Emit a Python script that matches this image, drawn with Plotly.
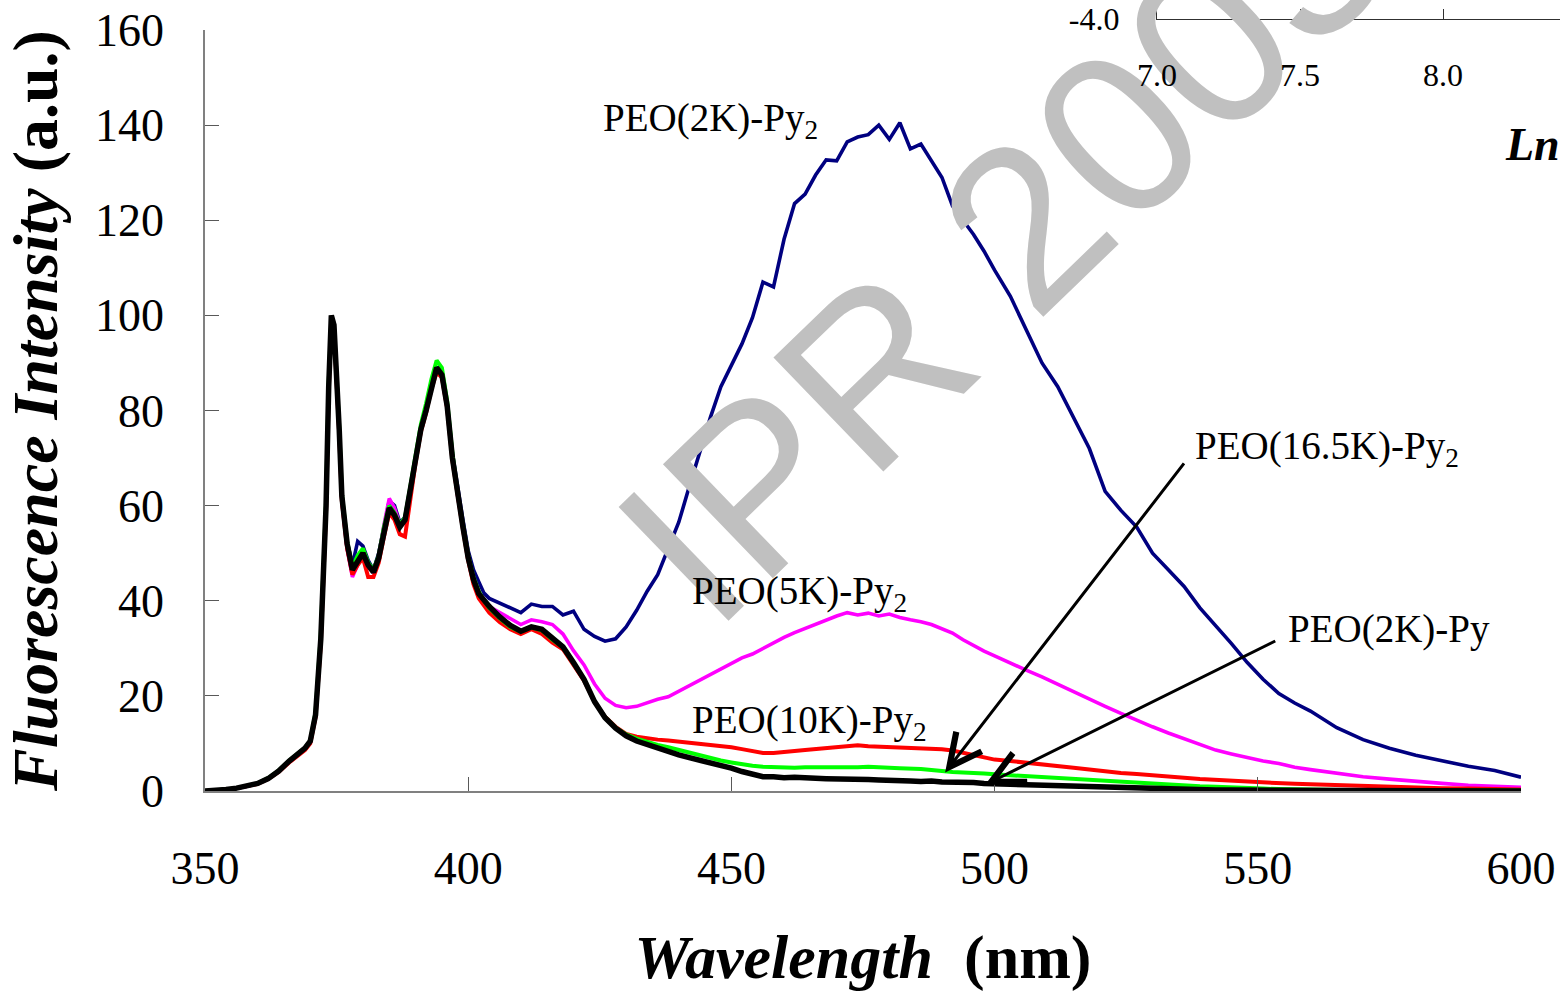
import plotly.graph_objects as go

# ---------------- data ----------------
wavelength = [350, 352, 354, 356, 358, 360, 362, 364, 366, 368,
              369, 370, 371, 372, 373, 373.5, 374, 374.5, 375, 375.5, 376,
              377, 378, 379, 380, 381, 382, 383, 384, 385, 386, 387, 388, 389, 390,
              391, 392, 393, 394, 395, 396, 397, 398, 399, 400, 401, 402, 403, 404,
              406, 408, 410, 412, 414, 416, 418, 420, 422, 424, 426, 428, 430, 432,
              434, 436, 438, 440, 442, 444, 446, 448, 450, 452, 454, 456, 458, 460,
              462, 464, 466, 468, 470, 472, 474, 476, 478, 480, 482, 484, 486, 488,
              490, 492, 494, 496, 498, 500,
              503, 506, 509, 512, 515, 518, 521, 524, 527, 530, 533, 536, 539, 542,
              545, 548, 551, 554, 557, 560,
              565, 570, 575, 580, 585, 590, 595, 600]

peo2k_py2 = [0, 0.1, 0.3, 0.6, 1.0, 1.6, 2.6, 4.2, 6.3, 8.2,
             9.0, 10.5, 16, 32, 60, 85, 99.5, 97.5, 88, 76, 62.5,
             52.5, 47.5, 52.5, 51.5, 48.5, 46.5, 50, 56, 61, 60, 56.5, 57.5, 64, 70.5,
             76.5, 80.5, 85, 89, 88, 81.5, 71, 63.5, 57, 50.5, 46.5, 44, 41.6, 40.5,
             39.5, 38.5, 37.5, 39.3, 38.8, 38.8, 37.0, 37.8, 34.0, 32.5, 31.5, 32.0, 34.5, 38.0,
             42.0, 45.5, 51.0, 56.5, 64.0, 71.5, 78.5, 85.0, 89.5, 94.0, 99.5, 107.0, 106.0, 116.0,
             123.5, 125.5, 129.5, 132.7, 132.5, 136.5, 137.5, 138.0, 140.0, 137.0, 140.5, 135.0, 136.0, 132.5,
             129.0, 123.0, 120.0, 117.0, 113.5, 109.5,
             104.0, 97.0, 90.0, 85.0, 78.5, 72.0, 63.0, 59.0, 55.5, 50.0, 46.5, 43.0, 38.5, 34.8,
             31.0, 27.0, 23.5, 20.5, 18.5, 16.8,
             13.3, 10.8, 9.0, 7.5, 6.4, 5.2, 4.3, 2.9]

peo5k_py2 = [0, 0.1, 0.3, 0.6, 1.0, 1.6, 2.6, 4.1, 6.2, 8.0,
             8.8, 10.2, 15.5, 31.5, 59.5, 85, 99, 97, 87, 75, 61,
             51, 45, 47.5, 49.5, 47, 46, 49.5, 56, 61.5, 59.5, 56, 56.5, 63, 70,
             76, 80, 85, 88.5, 87, 80.5, 70, 62, 55.5, 49.5, 45, 42, 40, 38.8,
             37.5, 36.2, 35.0, 36.0, 35.6, 35.0, 33.0, 29.5, 26.5, 22.5, 19.5, 18.0, 17.5, 17.8,
             18.5, 19.3, 19.8, 21.0, 22.2, 23.3, 24.5, 25.6, 27.0, 28.0, 28.8, 30.0, 31.2, 32.3,
             33.3, 34.2, 35.0, 36.0, 36.8, 37.5, 37.0, 37.4, 36.8, 37.2, 36.5, 36.0, 35.6, 35.0,
             34.2, 33.2, 31.8, 30.5, 29.4, 28.4,
             26.8, 25.4, 24.0, 22.4, 20.8, 19.4, 17.8, 16.3, 14.8, 13.5, 12.2, 11.0, 9.8, 8.6,
             7.8, 7.0, 6.3, 5.8, 5.0, 4.5,
             3.7, 3.0, 2.5, 2.0, 1.6, 1.2, 1.0, 0.8]

peo10k_py2 = [0, 0.1, 0.3, 0.6, 1.0, 1.5, 2.5, 4.0, 6.0, 7.8,
              8.6, 10.0, 15.5, 31, 59, 84, 99, 97, 87, 75, 61,
              51, 45.5, 47.5, 49, 45, 45, 48, 53.5, 58.5, 57, 54, 53.5, 61.5, 69,
              75.5, 79.5, 84.5, 88, 87, 80.5, 69.5, 61.5, 55, 48.5, 43.5, 40.5, 39, 37.5,
              35.5, 34.0, 33.0, 34.0, 33.0, 31.2, 29.8, 26.5, 23.2, 18.8, 15.6, 13.5, 12.0, 11.4,
              11.0, 10.8, 10.6, 10.4, 10.2, 10.0, 9.7, 9.4, 9.2, 8.8, 8.3, 8.0, 8.0, 8.1,
              8.4, 8.6, 8.8, 9.0, 9.2, 9.4, 9.6, 9.4, 9.3, 9.3, 9.2, 9.2, 9.1, 9.0,
              8.8, 8.5, 8.0, 7.5, 7.0, 6.6,
              6.3, 6.0, 5.6, 5.2, 4.9, 4.5, 4.1, 3.8, 3.6, 3.4, 3.1, 2.8, 2.5, 2.3,
              2.1, 1.9, 1.8, 1.7, 1.5, 1.4,
              1.2, 1.1, 0.9, 0.8, 0.6, 0.5, 0.4, 0.3]

peo16k_py2 = [0, 0.1, 0.3, 0.6, 1.0, 1.6, 2.7, 4.3, 6.4, 8.3,
              9.1, 10.6, 16.5, 33, 61, 86, 99.5, 97.5, 88, 76.5, 62.5,
              52.5, 47, 49.5, 51, 48, 46.5, 49.5, 55.5, 60, 58.5, 56, 57.5, 64, 71,
              77, 81.5, 86.5, 90.5, 89, 82, 71, 62.5, 56, 49.5, 45, 42, 40, 38.5,
              36.3, 34.5, 33.5, 34.4, 33.8, 31.8, 30.2, 27.0, 23.5, 18.8, 15.5, 13.3, 11.9, 11.0,
              10.3, 9.7, 9.2, 8.6, 8.1, 7.5, 6.9, 6.4, 6.0, 5.6, 5.3, 5.1, 5.0, 5.0,
              4.9, 5.0, 4.9, 5.0, 5.0, 4.9, 5.0, 5.1, 4.9, 4.9, 4.8, 4.8, 4.6, 4.4,
              4.1, 4.0, 3.9, 3.9, 3.7, 3.5,
              3.3, 3.0, 2.8, 2.6, 2.4, 2.2, 2.0, 1.9, 1.7, 1.5, 1.4, 1.2, 1.0, 0.9,
              0.7, 0.6, 0.5, 0.4, 0.3, 0.3,
              0.2, 0.2, 0.2, 0.1, 0.1, 0.1, 0.1, 0.1]

peo2k_py = [0, 0.1, 0.3, 0.6, 1.0, 1.6, 2.6, 4.2, 6.3, 8.2,
            9.0, 10.5, 16, 32, 60, 85, 100, 98, 88, 76, 62,
            52, 46.5, 48.5, 50, 47.5, 46, 49, 55, 59.5, 58, 55.5, 57, 63, 70,
            76, 80, 85, 89, 87.5, 81, 70, 62, 55.5, 49, 44.5, 41.5, 40, 38.8,
            36.6, 34.8, 33.6, 34.5, 34.0, 32.0, 30.3, 27.0, 23.5, 18.8, 15.4, 13.2, 11.6, 10.5,
            9.7, 8.9, 8.2, 7.6, 7.0, 6.5, 5.9, 5.3, 4.8, 4.1, 3.5, 3.0, 3.0, 2.8,
            2.9, 2.7, 2.7, 2.6, 2.6, 2.5, 2.6, 2.4, 2.3, 2.3, 2.3, 2.1, 2.0, 2.1,
            1.9, 1.9, 1.8, 1.8, 1.6, 1.6,
            1.4, 1.3, 1.2, 1.0, 0.9, 0.8, 0.7, 0.6, 0.5, 0.4, 0.4, 0.3, 0.3, 0.2,
            0.2, 0.2, 0.2, 0.1, 0.1, 0.1,
            0.1, 0.1, 0.1, 0.1, 0.0, 0.0, 0.0, 0.0]

series_names = ["PEO(2K)-Py2", "PEO(5K)-Py2", "PEO(10K)-Py2", "PEO(16.5K)-Py2", "PEO(2K)-Py"]
series_values = [peo2k_py2, peo5k_py2, peo10k_py2, peo16k_py2, peo2k_py]
series_colors = ["#000080", "#FF00FF", "#FF0000", "#00FF00", "#000000"]
series_widths = [3.6, 3.6, 4, 4, 5.5]

x_ticks = [350, 400, 450, 500, 550, 600]
y_ticks = [0, 20, 40, 60, 80, 100, 120, 140, 160]

# curve labels: (text, x, y)
label_texts = ["PEO(2K)-Py<sub>2</sub>", "PEO(5K)-Py<sub>2</sub>", "PEO(10K)-Py<sub>2</sub>",
               "PEO(16.5K)-Py<sub>2</sub>", "PEO(2K)-Py"]
label_x = [425.2, 442.1, 442.1, 537.7, 555.4]
label_y = [141.0, 41.5, 14.5, 72.0, 34.0]

# arrows: head (x, y) and tail (ax, ay)
arrow_head_x = [490.6, 498.2]
arrow_head_y = [3.9, 1.3]
arrow_tail_x = [536.2, 553.6]
arrow_tail_y = [69.2, 31.7]

# inset (cropped) axis ticks
inset_x_ticks = [7.0, 7.5, 8.0]
inset_x_text = ["7.0", "7.5", "8.0"]
inset_y_ticks = [-4.0]

SERIF = "Times New Roman, Liberation Serif, serif"

fig = go.Figure()
for name, vals, col, w in zip(series_names, series_values, series_colors, series_widths):
    fig.add_trace(go.Scatter(x=wavelength, y=vals, mode="lines", name=name,
                             line=dict(color=col, width=w), showlegend=False,
                             xaxis="x", yaxis="y"))

# empty trace for the cropped inset subplot
fig.add_trace(go.Scatter(x=[], y=[], xaxis="x2", yaxis="y2", showlegend=False))

W, H = 1560, 995
ml, mr, mt, mb = 205, 0, 0, 204
pw, ph = W - ml - mr, H - mt - mb

annotations = []
# watermark (first, so labels are drawn over it)
annotations.append(dict(text="IPR 2003", x=(1003 - ml) / pw, y=(ph - 246) / ph,
                        xref="paper", yref="paper", xanchor="center", yanchor="middle",
                        textangle=-44, showarrow=False,
                        font=dict(family="Arial, Liberation Sans, sans-serif", size=230,
                                  color="#C0C0C0")))
for t, x, y in zip(label_texts, label_x, label_y):
    annotations.append(dict(text=t, x=x, y=y, xref="x", yref="y", xanchor="left",
                            yanchor="middle", showarrow=False,
                            font=dict(family=SERIF, size=39, color="black")))
for hx, hy, tx, ty in zip(arrow_head_x, arrow_head_y, arrow_tail_x, arrow_tail_y):
    annotations.append(dict(text="", x=hx, y=hy, ax=tx, ay=ty, xref="x", yref="y",
                            axref="x", ayref="y", showarrow=True, arrowhead=5,
                            arrowsize=2.1, arrowwidth=3, arrowcolor="black", standoff=0))
# inset x tick labels
for v, t in zip(inset_x_ticks, inset_x_text):
    annotations.append(dict(text=t, x=v, y=(ph - 75) / ph, xref="x2", yref="paper",
                            xanchor="center", yanchor="middle", showarrow=False,
                            font=dict(family=SERIF, size=32, color="black")))
# cropped inset title
annotations.append(dict(text="<b><i>Ln(M<sub>n</sub>)</i></b>", x=(1503 - ml) / pw,
                        y=(ph - 148) / ph, xref="paper", yref="paper", xanchor="left",
                        yanchor="middle", showarrow=False,
                        font=dict(family=SERIF, size=46, color="black")))

fig.update_layout(
    width=W, height=H,
    margin=dict(l=ml, r=mr, t=mt, b=mb, pad=0),
    paper_bgcolor="white", plot_bgcolor="white",
    showlegend=False,
    xaxis=dict(domain=[0, 1316 / pw], range=[350, 600], tickvals=x_ticks,
               ticks="inside", ticklen=14, tickwidth=1.2, tickcolor="#595959",
               showline=True, linecolor="#808080", linewidth=1.5,
               showgrid=False, zeroline=False, automargin=False,
               ticklabelstandoff=36,
               tickfont=dict(family=SERIF, size=46, color="black"),
               title=dict(text="<b><i>Wavelength</i>&nbsp; (nm)</b>", standoff=42,
                          font=dict(family=SERIF, size=62, color="black")),
               anchor="y"),
    yaxis=dict(domain=[0, 761 / ph], range=[0, 160], tickvals=y_ticks,
               ticks="inside", ticklen=14, tickwidth=1.2, tickcolor="#595959",
               showline=True, linecolor="#808080", linewidth=1.5,
               showgrid=False, zeroline=False, automargin=False,
               ticklabelstandoff=30,
               tickfont=dict(family=SERIF, size=46, color="black"),
               title=dict(text="<b><i>Fluorescence Intensity</i> (a.u.)</b>", standoff=22,
                          font=dict(family=SERIF, size=64, color="black")),
               anchor="x"),
    xaxis2=dict(domain=[(1157 - ml) / pw, 1.0], range=[7.0, 7.0 + 403 / 286],
                tickvals=inset_x_ticks, showticklabels=False,
                ticks="inside", ticklen=10, tickwidth=1, tickcolor="#303030",
                showline=True, linecolor="#303030", linewidth=1.2,
                showgrid=False, zeroline=False, automargin=False,
                anchor="y2"),
    yaxis2=dict(domain=[(ph - 19) / ph, 1.0], range=[-4.0, -3.8],
                tickvals=inset_y_ticks, ticktext=["-4.0"],
                ticks="inside", ticklen=10, tickwidth=1, tickcolor="#303030",
                showline=True, linecolor="#303030", linewidth=1.2,
                showgrid=False, zeroline=False, automargin=False,
                ticklabelstandoff=30,
                tickfont=dict(family=SERIF, size=32, color="black"),
                anchor="x2"),
    annotations=annotations,
)

fig.write_html("out.html", config={"displayModeBar": False},
               post_script="document.body.style.margin='0px';")
